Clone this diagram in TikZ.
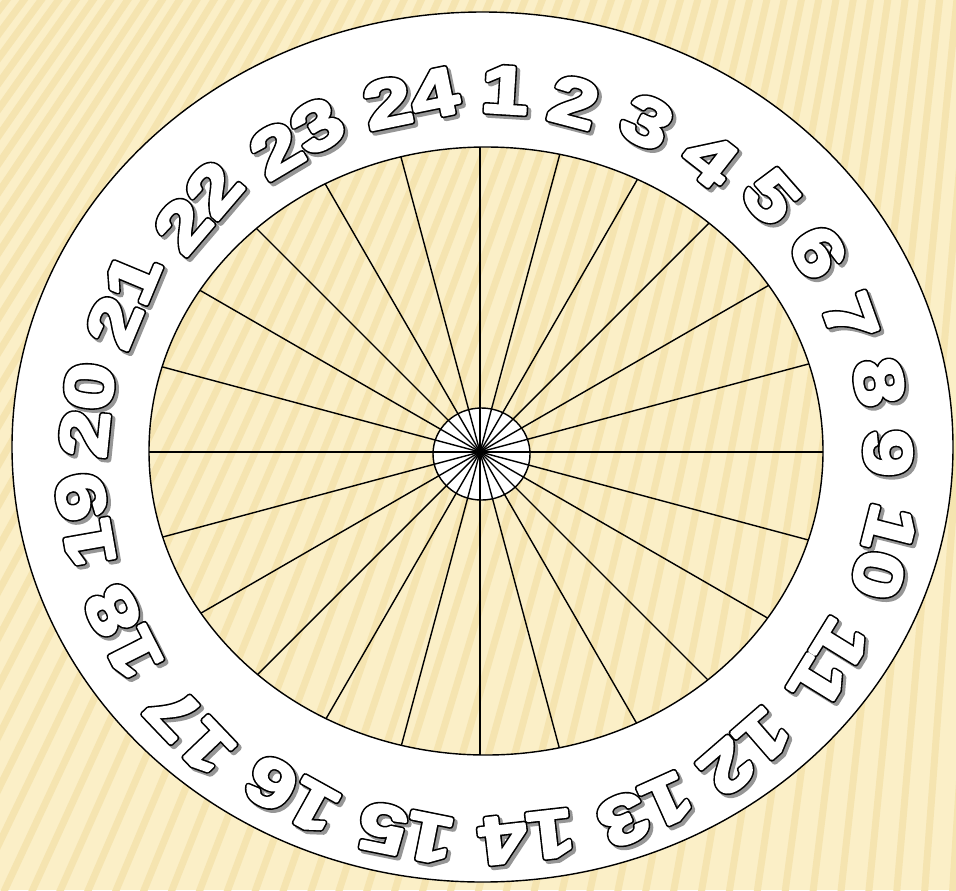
\documentclass[tikz,border=0pt]{standalone}
\usepackage{fontspec}
\newfontfamily\dialfont[FakeStretch=1.28]{Liberation Sans}
\usetikzlibrary{positioning}
\definecolor{paper}{RGB}{251,239,199}
\definecolor{paperstripe}{RGB}{245,228,176}
\definecolor{numshade}{RGB}{150,150,150}
\newcommand\numshadow[1]{\color{numshade}\special{pdf:literal direct 1 j 3.4 w 2 Tr}#1\special{pdf:literal direct 0 Tr}}
\newcommand\numrim[1]{\color{black}\special{pdf:literal direct 1 j 3.4 w 2 Tr}#1\special{pdf:literal direct 0 Tr}}
\newcommand\numface[1]{\color{white}\special{pdf:literal direct 1 j 1.6 w 2 Tr}#1\special{pdf:literal direct 0 Tr}}
\tikzset{
    dialnum/.style={inner sep=0pt, font=\dialfont\bfseries\fontsize{38}{38}\selectfont},
    rim/.style={draw=black, line width=0.8pt},
    spoke/.style={draw=black, line width=0.8pt},
}
\begin{document}
\begin{tikzpicture}[x=0.02cm, y=-0.02cm]
    \useasboundingbox (0,0) rectangle (956,890);
    \begin{scope}
        \clip (0,0) rectangle (956,890);
        \fill[paper] (0,0) rectangle (956,890);
        \foreach \xb in {-700,-672,...,1000}
            \draw[paperstripe, line width=0.14cm] (1100,-1450) -- (\xb,900);
    \end{scope}
    \fill[white, even odd rule] (482.5,447) ellipse [x radius=470.5, y radius=435]
        (486,451) ellipse [x radius=337, y radius=304];
    \draw[rim] (482.5,447) ellipse [x radius=470.5, y radius=435];
    \draw[rim] (486,451) ellipse [x radius=337, y radius=304];
    \fill[white] (481.5,454) ellipse [x radius=48.5, y radius=46];
    \begin{scope}
        \clip (486,451) ellipse [x radius=337, y radius=304];
        \foreach \a in {0,15,...,345}
            \draw[spoke] (480,452) -- ++(\a:500);
    \end{scope}
    \draw[rim] (481.5,454) ellipse [x radius=48.5, y radius=46];
    \foreach \n/\px/\py/\r in {1/505/90/-3.5, 2/574/102/-14.7, 3/647/122/-26.6, 4/710/159/-38,
        5/771/197/-48.7, 6/818/252/-59.4, 7/850/318/-70.2, 8/879/382/-80.3,
        9/888/453/-90.4, 10/884/552/-104.3, 11/829/663/-121.6, 12/745/752/-139,
        13/645/810/-155.8, 14/527/837/-173.5, 15/406/833/168.6, 16/292/795/151,
        17/190/730/133.7, 18/123/632/116.8, 19/85/520/100, 20/87/410/84.2,
        21/123/300/67.4, 22/198/207/49.5, 23/297/138/30.8, 24/411/98/11.6}{
        \node[dialnum, rotate=\r] (s\n) at (\px+3,\py+3) {\numshadow{\n}};
        \node[dialnum, rotate=\r] (r\n) at (\px,\py) {\numrim{\n}};
        \node[dialnum, rotate=\r] (n\n) at (\px,\py) {\numface{\n}};
    }
\end{tikzpicture}
\end{document}
